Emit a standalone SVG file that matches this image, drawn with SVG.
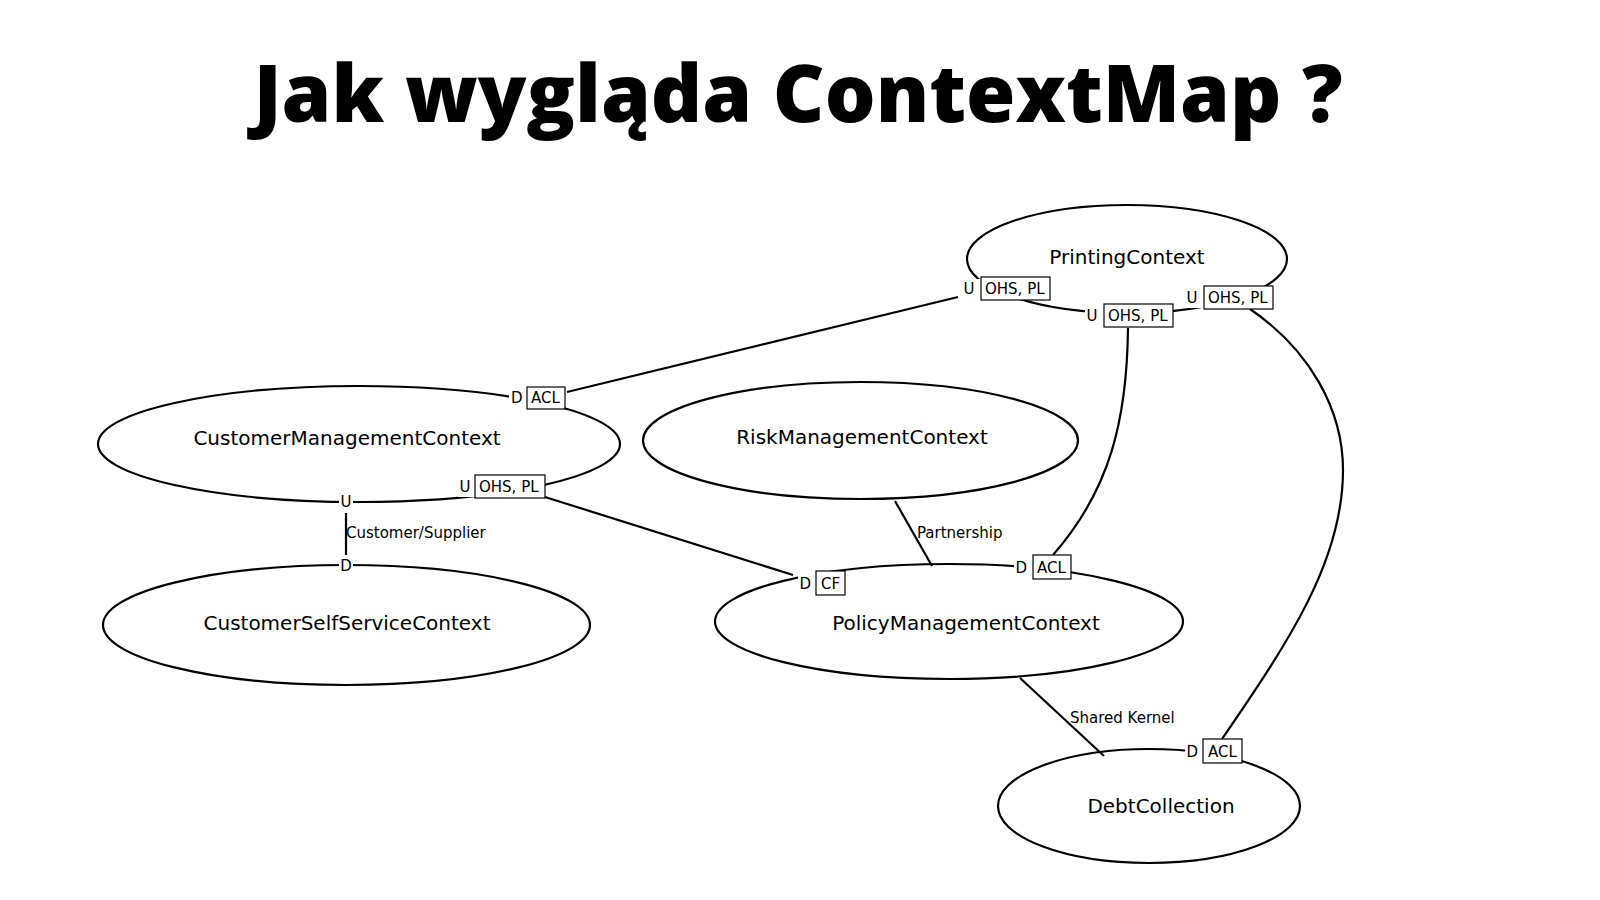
<svg xmlns="http://www.w3.org/2000/svg" width="1600" height="900" viewBox="0 0 1600 900">
<style>
.title{font-family:"Open Sans","Liberation Sans",sans-serif;font-weight:800;font-size:80px;fill:#000}
.node ellipse{fill:#fff;stroke:#000;stroke-width:2.2}
.node text{font-family:"DejaVu Sans","Liberation Sans",sans-serif;font-size:20px;fill:#000;text-anchor:middle}
.edge{fill:none;stroke:#000;stroke-width:2.2}
.elbl{font-family:"DejaVu Sans","Liberation Sans",sans-serif;font-size:15px;fill:#000}
.bg{fill:#fff;stroke:none}
.box{fill:#fff;stroke:#000;stroke-width:1.2}
</style>
<rect width="1600" height="900" fill="#fff"/>
<text class="title" x="798" y="122" text-anchor="middle">Jak wygląda ContextMap ?</text>

<g id="PrintingContext" class="node"><ellipse cx="1127" cy="259" rx="160" ry="54"/><text x="1127" y="264">PrintingContext</text></g>
<g id="CustomerManagementContext" class="node"><ellipse cx="359" cy="444" rx="261" ry="58"/><text x="347" y="445">CustomerManagementContext</text></g>
<g id="RiskManagementContext" class="node"><ellipse cx="860.5" cy="440.5" rx="217.5" ry="58.5"/><text x="862" y="444">RiskManagementContext</text></g>
<g id="CustomerSelfServiceContext" class="node"><ellipse cx="346.5" cy="625" rx="243.5" ry="60"/><text x="347" y="630">CustomerSelfServiceContext</text></g>
<g id="PolicyManagementContext" class="node"><ellipse cx="949" cy="621.5" rx="234" ry="57.5"/><text x="966" y="630">PolicyManagementContext</text></g>
<g id="DebtCollection" class="node"><ellipse cx="1149" cy="806" rx="151" ry="57"/><text x="1161" y="813">DebtCollection</text></g>

<g id="connectors">
<path class="edge" d="M567,392 L958,297"/>
<path class="edge" d="M545,497 L793,575"/>
<path class="edge" d="M346,513 L346,555"/>
<path class="edge" d="M895,501 L932,566"/>
<path class="edge" d="M1020,678 L1104,756"/>
<path class="edge" d="M1128,328 C1127,420 1110,490 1053,555"/>
<path class="edge" d="M1250,309 C1310,350 1343,410 1343,470 C1343,560 1290,640 1222,739"/>
</g>

<g id="edge-labels">
<g><rect class="bg" x="962" y="279" width="19" height="20"/><rect class="box" x="981" y="277" width="69" height="23"/><text class="elbl" x="963.5" y="294">U</text><text class="elbl" x="985" y="294">OHS, PL</text></g>
<g><rect class="bg" x="1085" y="306" width="19" height="20"/><rect class="box" x="1104" y="304" width="69" height="23"/><text class="elbl" x="1086.5" y="321">U</text><text class="elbl" x="1108" y="321">OHS, PL</text></g>
<g><rect class="bg" x="1185" y="288" width="19" height="20"/><rect class="box" x="1204" y="286" width="69" height="23"/><text class="elbl" x="1186.5" y="303">U</text><text class="elbl" x="1208" y="303">OHS, PL</text></g>
<g><rect class="bg" x="509" y="389" width="19" height="20"/><rect class="box" x="527" y="387" width="38" height="22"/><text class="elbl" x="511" y="403">D</text><text class="elbl" x="531" y="403">ACL</text></g>
<g><rect class="bg" x="458" y="477" width="18" height="20"/><rect class="box" x="475" y="475" width="70" height="23"/><text class="elbl" x="459.5" y="492">U</text><text class="elbl" x="479" y="492">OHS, PL</text></g>
<rect class="bg" x="339" y="494" width="14" height="16"/><text class="elbl" x="346" y="507" text-anchor="middle">U</text>
<rect class="bg" x="339" y="558" width="14" height="16"/><text class="elbl" x="346" y="571" text-anchor="middle">D</text>
<text class="elbl" x="346" y="538">Customer/Supplier</text>
<g><rect class="bg" x="798" y="573" width="19" height="20"/><rect class="box" x="816" y="571" width="29" height="24"/><text class="elbl" x="799.5" y="589">D</text><text class="elbl" x="821" y="589">CF</text></g>
<g><rect class="bg" x="1014" y="557" width="20" height="20"/><rect class="box" x="1033" y="555" width="38" height="24"/><text class="elbl" x="1015.5" y="573">D</text><text class="elbl" x="1037" y="573">ACL</text></g>
<text class="elbl" x="917" y="538">Partnership</text>
<g><rect class="bg" x="1185" y="741" width="19" height="20"/><rect class="box" x="1203" y="739" width="39" height="24"/><text class="elbl" x="1186.5" y="757">D</text><text class="elbl" x="1208" y="757">ACL</text></g>
<text class="elbl" x="1070" y="723">Shared Kernel</text>
</g>
</svg>
